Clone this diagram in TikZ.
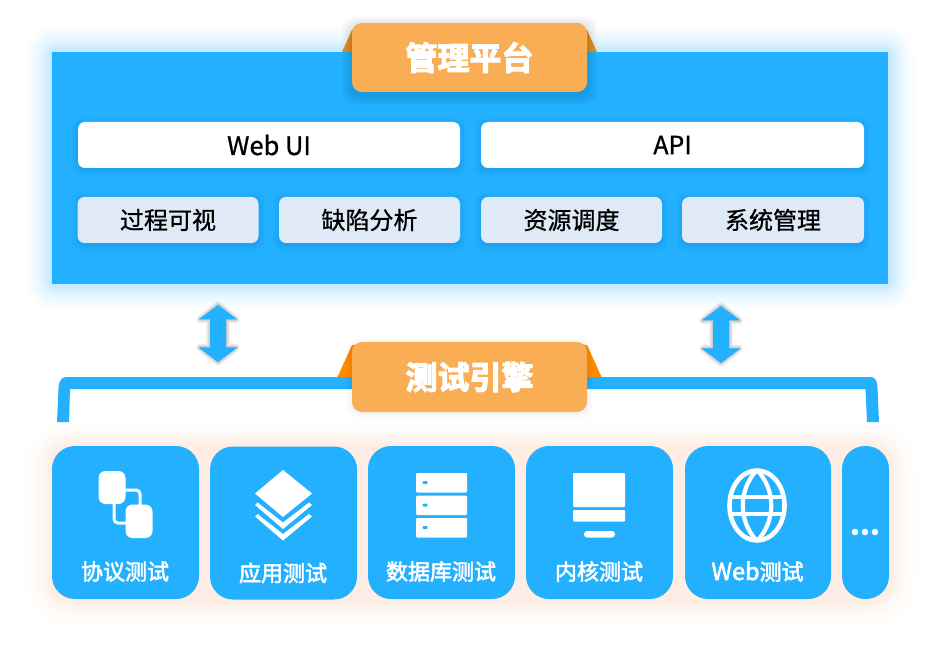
\documentclass[tikz,border=0pt]{standalone}
\usepackage{fontspec}
\setmainfont{Noto Sans CJK SC}
\newfontfamily\cardfont[FakeBold=2.4]{Noto Sans CJK SC}
\newfontfamily\boxfont[FakeBold=0.9]{Noto Sans CJK SC}
\newfontfamily\titlefont[FakeBold=3.4]{Noto Sans CJK SC Bold}
\definecolor{skyb}{HTML}{22B0FF}
\definecolor{tabc}{HTML}{F9AE56}
\definecolor{lightb}{HTML}{DFEAF6}
\definecolor{peach}{HTML}{F28A4A}
\definecolor{earA}{HTML}{E48F22}
\definecolor{earB}{HTML}{FF8A00}
% opaque, smoothly fading glow: x1 y1 x2 y2 radius spread colour peak%
\newcommand{\glowrect}[8]{%
  \foreach \gs in {#6,...,1}{
    \pgfmathsetmacro{\gp}{#8*(1-\gs/(#6+1))*(1-\gs/(#6+1))}
    \fill[#7!\gp!white,rounded corners={(#5+\gs)*1pt}]
      ({#1-\gs},{#2-\gs}) rectangle ({#3+\gs},{#4+\gs});
  }}
\tikzset{
  x=1pt,y=-1pt,
  panel/.style={fill=skyb,inner sep=0pt,outer sep=0pt,minimum width=836pt,minimum height=232pt},
  tabbox/.style={fill=tabc,rounded corners=10pt,inner sep=0pt,outer sep=0pt,minimum width=235pt,minimum height=69pt,text=white,font=\titlefont\fontsize{32}{32}\selectfont},
  whitebar/.style={fill=white,rounded corners=7pt,inner sep=0pt,outer sep=0pt,minimum width=382pt,minimum height=46pt,text=black,font=\boxfont\fontsize{24}{24}\selectfont},
  funcbox/.style={fill=lightb,rounded corners=7pt,inner sep=0pt,outer sep=0pt,minimum width=181pt,minimum height=46pt,text=black,font=\boxfont\fontsize{24}{24}\selectfont},
  card/.style={fill=skyb,rounded corners=23pt,inner sep=0pt,outer sep=0pt,minimum width=147pt,minimum height=153pt},
  cardlabel/.style={text=white,inner sep=0pt,font=\cardfont\fontsize{22}{22}\selectfont},
  iconw/.style={fill=white,draw=none},
  iconl/.style={draw=white,line width=3pt,fill=none},
  dblarrow/.style={fill=skyb,draw=none}
}
\begin{document}
\begin{tikzpicture}
\useasboundingbox (0,0) rectangle (940,652);
\fill[white] (0,0) rectangle (940,652);
% glows
\glowrect{52}{52}{888}{284}{4}{32}{skyb}{30}
\glowrect{52}{447}{889}{599}{20}{32}{peach}{16}
% top panel
\fill[earA] (342,52) -- (352,30) -- (587,30) -- (597,52) -- cycle;
\node[panel] (platform) at (470,168) {};
\foreach \gs in {10,...,1}{
  \fill[black,opacity=0.012,rounded corners=12pt] ({352-\gs},{26-\gs}) rectangle ({587+\gs},{95+\gs});
}
\node[tabbox] (platformtitle) at (469.5,57.5) {管理平台};
% bars
\foreach \bx/\by/\bw in {78/122/382,481/122/383,78/197/181,279/197/181,481/197/181,682/197/182}{
  \foreach \gs in {6,...,1}{
    \fill[black,opacity=0.009,rounded corners=8pt] ({\bx-\gs},{\by+2-\gs}) rectangle ({\bx+\bw+\gs},{\by+48+\gs});
  }
}
\node[whitebar,font=\boxfont\fontsize{25.5}{25}\selectfont] (webui) at (269,145) {Web UI};
\node[whitebar,minimum width=383pt,font=\boxfont\fontsize{25}{25}\selectfont] (api) at (672.5,145) {API};
\node[funcbox] (f1) at (168,220) {过程可视};
\node[funcbox] (f2) at (369.5,220) {缺陷分析};
\node[funcbox] (f3) at (571.5,220) {资源调度};
\node[funcbox,minimum width=182pt] (f4) at (773,220) {系统管理};
% double arrows
\foreach \ax/\ay in {218/305,721/306}{
  \foreach \gs in {8,...,1}{
    \draw[black,opacity=0.028,line width={\gs*1pt},line join=round]
      (\ax,\ay) -- ({\ax+18},{\ay+14.5}) -- ({\ax+8},{\ay+14.5}) -- ({\ax+8},{\ay+42.5}) -- ({\ax+18},{\ay+42.5}) -- (\ax,{\ay+57}) -- ({\ax-18},{\ay+42.5}) -- ({\ax-8},{\ay+42.5}) -- ({\ax-8},{\ay+14.5}) -- ({\ax-18},{\ay+14.5}) -- cycle;
  }
  \fill[dblarrow]
      (\ax,\ay) -- ({\ax+19.5},{\ay+14.5}) -- ({\ax+8},{\ay+14.5}) -- ({\ax+8},{\ay+42.5}) -- ({\ax+19.5},{\ay+42.5}) -- (\ax,{\ay+57}) -- ({\ax-19.5},{\ay+42.5}) -- ({\ax-8},{\ay+42.5}) -- ({\ax-8},{\ay+14.5}) -- ({\ax-19.5},{\ay+14.5}) -- cycle;
}
% bracket and engine tab
\fill[earB] (337,378) -- (352,345) -- (587,345) -- (602,378) -- cycle;
\fill[skyb] (57,422) -- (58.5,388) .. controls (59,380) and (62,377) .. (67,377)
  -- (870,377) .. controls (875,377) and (877,380) .. (877.5,388)
  -- (879,422) -- (867,422) -- (865.5,389) -- (70,389) -- (69,422) -- cycle;
\foreach \gs in {6,...,1}{
  \fill[black,opacity=0.008,rounded corners=12pt] ({352-\gs},{344-\gs}) rectangle ({587+\gs},{413+\gs});
}
\node[tabbox,minimum height=70pt] (engine) at (469.5,377) {测试引擎};
% cards
\node[card] (c1) at (125.5,522.5) {};
\node[card] (c2) at (283.5,523) {};
\node[card] (c3) at (441.5,522.5) {};
\node[card] (c4) at (599.5,522.5) {};
\node[card,minimum width=146pt] (c5) at (758,522.5) {};
\node[card,minimum width=47pt] (c6) at (865.5,522.5) {};
\node[cardlabel] at (125,571.5) {协议测试};
\node[cardlabel] at (283,573) {应用测试};
\node[cardlabel] at (441,571.5) {数据库测试};
\node[cardlabel] at (599,571.5) {内核测试};
\node[cardlabel] at (757.5,571.5) {{\fontsize{23.5}{22}\selectfont Web}测试};
% protocol icon
\draw[iconl,rounded corners=4pt] (124,490) -- (140,490) -- (140,506);
\draw[iconl,rounded corners=4pt] (114,503) -- (114,523) -- (127,523);
\fill[iconw,rounded corners=7pt] (98.5,471) rectangle (125.5,504);
\fill[iconw,rounded corners=7pt] (125.5,504.5) rectangle (152.5,538);
% layers icon
\fill[iconw] (283,470) -- (312,493.5) -- (283,517) -- (255,493.5) -- cycle;
\fill[iconw] (255,505) -- (257.5,502.5) -- (283,522.5) -- (309,502.5) -- (312,505) -- (283,529) -- cycle;
\fill[iconw] (255,516.5) -- (257.5,514) -- (283,534) -- (309,514) -- (312,516.5) -- (283,540.5) -- cycle;
% server icon
\foreach \ry in {473,495.5,518}{
  \fill[iconw,rounded corners=1pt] (416,\ry) rectangle (467,{\ry+19.5});
  \fill[skyb,rounded corners=1pt] (422.5,{\ry+8}) rectangle (427.5,{\ry+11});
}
% kernel icon
\fill[iconw,rounded corners=1pt] (573,473) rectangle (625,507);
\fill[iconw,rounded corners=1pt] (573,510) rectangle (625,521.5);
\fill[iconw,rounded corners=3pt] (584,531) rectangle (615,537.5);
% globe icon
\draw[iconl,line width=4.6pt] (757,505.5) ellipse [x radius=27.5,y radius=35];
\draw[iconl,line width=4.2pt] (757,470) .. controls (738,490) and (738,521) .. (757,541);
\draw[iconl,line width=4.2pt] (757,470) .. controls (776,490) and (776,521) .. (757,541);
\draw[iconl,line width=4.2pt] (731,497) -- (783,497);
\draw[iconl,line width=4.2pt] (731,514) -- (783,514);
% dots
\foreach \dx in {855,865,875}{
  \fill[iconw] (\dx,532) circle (3.3);
}
\end{tikzpicture}
\end{document}
